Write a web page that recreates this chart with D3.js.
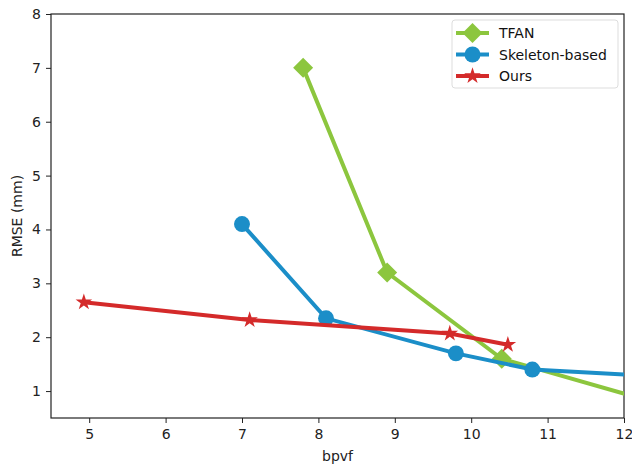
<!DOCTYPE html>
<html>
<head>
<meta charset="utf-8">
<script src="https://cdn.jsdelivr.net/npm/d3@7"></script>
<style>
  body { margin: 0; background: #fff; }
  text { font-family: "DejaVu Sans", sans-serif; }
</style>
</head>
<body>
<div id="chart"></div>
<script>
// data
var tfanX = [7.8, 8.9, 10.4, 12.5];
var tfanY = [7.0, 3.2, 1.6, 0.75];
var skelX = [7.0, 8.1, 9.8, 10.8, 12.6];
var skelY = [4.1, 2.35, 1.7, 1.4, 1.26];
var oursX = [4.93, 7.1, 9.72, 10.48];
var oursY = [2.65, 2.32, 2.07, 1.86];
var xTicks = [5, 6, 7, 8, 9, 10, 11, 12];
var yTicks = [1, 2, 3, 4, 5, 6, 7, 8];

var W = 632, H = 464;
var margin = { top: 14, right: 8, bottom: 46, left: 51 };
var width = W - margin.left - margin.right,
  height = H - margin.top - margin.bottom;

var svg = d3.select("#chart").append("svg")
  .attr("width", W).attr("height", H);

svg.append("defs").append("clipPath").attr("id", "clip")
  .append("rect").attr("width", width).attr("height", height);

var g = svg.append("g")
  .attr("transform", "translate(" + margin.left + "," + margin.top + ")");

var x = d3.scaleLinear().domain([4.5, 12]).range([0, width]);
var y = d3.scaleLinear().domain([0.5, 8]).range([height, 0]);

// axes
var xAxis = g.append("g")
  .attr("transform", "translate(0," + height + ")")
  .call(d3.axisBottom(x).tickValues(xTicks).tickSize(5).tickPadding(6));
var yAxis = g.append("g")
  .call(d3.axisLeft(y).tickValues(yTicks).tickSize(5).tickPadding(5));
[xAxis, yAxis].forEach(function (a) {
  a.select(".domain").remove();
  a.selectAll("text").style("font-size", "14px").attr("fill", "#222");
  a.selectAll("line").attr("stroke", "#222");
});

g.append("rect")
  .attr("width", width).attr("height", height)
  .attr("fill", "none").attr("stroke", "#222").attr("stroke-width", 1.2);

svg.append("text")
  .attr("x", margin.left + width / 2).attr("y", 461)
  .attr("text-anchor", "middle").style("font-size", "14px").attr("fill", "#222")
  .text("bpvf");
svg.append("text")
  .attr("transform", "translate(22," + (margin.top + height / 2) + ")rotate(-90)")
  .attr("text-anchor", "middle").style("font-size", "14px").attr("fill", "#222")
  .text("RMSE (mm)");

// matplotlib "D" marker: square turned 45 degrees
var series = [
  { name: "TFAN", xs: tfanX, ys: tfanY, color: "#8cc63e", marker: d3.symbolSquare, size: 200, rot: 45 },
  { name: "Skeleton-based", xs: skelX, ys: skelY, color: "#1b8ec8", marker: d3.symbolCircle, size: 200, rot: 0 },
  { name: "Ours", xs: oursX, ys: oursY, color: "#d42a2a", marker: d3.symbolStar, size: 85, rot: 0 }
];

var plot = g.append("g").attr("clip-path", "url(#clip)");
var line = d3.line().x(function (d) { return x(d[0]); }).y(function (d) { return y(d[1]); });

series.forEach(function (s) {
  var pts = s.xs.map(function (v, i) { return [v, s.ys[i]]; });
  plot.append("path")
    .datum(pts)
    .attr("d", line)
    .attr("fill", "none")
    .attr("stroke", s.color)
    .attr("stroke-width", 4);
  plot.selectAll(null)
    .data(pts)
    .enter()
    .append("path")
    .attr("d", d3.symbol().type(s.marker).size(s.size))
    .attr("transform", function (d) { return "translate(" + x(d[0]) + "," + y(d[1]) + ")rotate(" + s.rot + ")"; })
    .attr("fill", s.color);
});

// legend
var lg = svg.append("g").attr("transform", "translate(452,20)");
lg.append("rect")
  .attr("width", 166).attr("height", 68).attr("rx", 3)
  .attr("fill", "#fff").attr("stroke", "#ddd");
series.forEach(function (s, i) {
  var yy = 13 + i * 21.5;
  lg.append("line").attr("x1", 4).attr("x2", 37).attr("y1", yy).attr("y2", yy)
    .attr("stroke", s.color).attr("stroke-width", 4);
  lg.append("path")
    .attr("d", d3.symbol().type(s.marker).size(s.size))
    .attr("transform", "translate(20.5," + yy + ")rotate(" + s.rot + ")")
    .attr("fill", s.color);
  lg.append("text").attr("x", 47).attr("y", yy + 5)
    .style("font-size", "14px").attr("fill", "#111")
    .text(s.name);
});
</script>
</body>
</html>
